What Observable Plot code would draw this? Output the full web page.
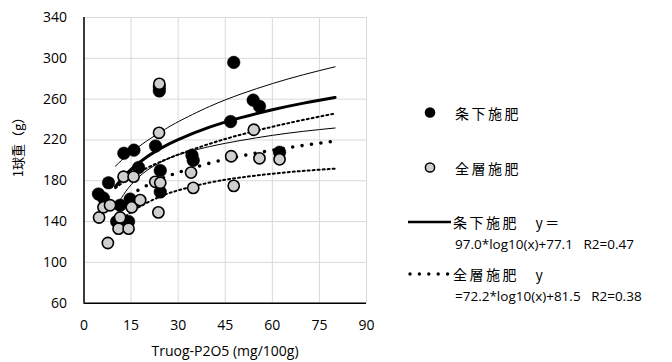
<!DOCTYPE html>
<html><head><meta charset="utf-8">
<script src="https://cdn.jsdelivr.net/npm/d3@7"></script>
<script src="https://cdn.jsdelivr.net/npm/@observablehq/plot@0.6"></script>
<style>
body{margin:0;background:#fff;}
#wrap{position:relative;width:672px;height:362px;font-family:"Open Sans","Noto Sans CJK JP",sans-serif;color:#000;}
.t{position:absolute;white-space:pre;line-height:20px;height:20px;}
.jp{font-family:"Noto Sans CJK JP",sans-serif;letter-spacing:2.5px;font-size:14px;}
.eq{font-size:13.5px;}
</style></head><body><div id="wrap"></div>
<script>
// 条下施肥 (black points)
const jouX = [4.6, 7.8, 6.2, 11.5, 14.7, 10.4, 14.2, 17.4, 12.7, 15.9, 22.8, 24.0, 24.0, 24.3, 24.3, 34.4, 34.8, 47.7, 46.7, 53.9, 55.9, 62.3];
const jouY = [167, 178, 163, 156, 162, 140, 140, 193, 207, 210, 214, 268, 272, 190, 169, 205, 200, 296, 238, 259, 253, 208];
// 全層施肥 (gray points)
const zenX = [4.8, 7.6, 6.2, 8.3, 11.5, 11.0, 14.2, 15.2, 17.9, 12.6, 15.8, 22.7, 24.3, 23.7, 23.9, 24.0, 34.1, 34.8, 46.9, 47.7, 54.1, 55.9, 62.3];
const zenY = [144, 119, 154, 156, 144, 133, 133, 154, 161, 184, 184, 179, 178, 149, 227, 275, 188, 173, 204, 175, 230, 202, 201];
// fitted curves
const fitX     = [10, 12, 15, 20, 25, 30, 40, 50, 60, 70, 80];
const jouFit   = [174.1, 181.8, 191.2, 203.3, 212.7, 220.4, 232.5, 241.9, 249.6, 256.1, 261.7];
const jouUpper = [194.3, 200.1, 207.7, 219.0, 228.9, 237.8, 252.8, 265.0, 275.2, 284.0, 291.7];
const jouLower = [154.0, 163.5, 176.0, 190.0, 199.0, 205.5, 213.5, 219.5, 224.5, 228.5, 231.7];
const zenFit   = [153.7, 159.4, 166.4, 175.4, 182.4, 188.1, 197.2, 204.2, 209.9, 214.7, 218.9];
const zenUpper = [172.7, 177.4, 183.4, 192.4, 199.4, 205.6, 216.2, 225.2, 232.9, 239.7, 245.9];
const zenLower = [134.7, 141.4, 149.4, 158.4, 165.4, 170.6, 178.2, 183.2, 186.9, 189.7, 191.9];
const xTicks = [0, 15, 30, 45, 60, 75, 90];
const yTicks = [60, 100, 140, 180, 220, 260, 300, 340];
const seriesNames = ["条下施肥", "全層施肥"];
const eqHead = ["条下施肥　y＝", "全層施肥　y"];
const eqBody = ["97.0*log10(x)+77.1   R2=0.47", "=72.2*log10(x)+81.5   R2=0.38"];
const xLabel = "Truog-P2O5 (mg/100g)";
const yLabel = "1球重（g）";

const pts = (xs, ys) => xs.map((x, i) => ({x, y: ys[i]}));
const curve = ys => fitX.map((x, i) => ({x, y: ys[i]}));

const chart = Plot.plot({
  width: 672, height: 362,
  marginLeft: 83.5, marginRight: 306, marginTop: 17, marginBottom: 59.3,
  x: {domain: [0, 90]},
  y: {domain: [60, 340]},
  style: {fontFamily: '"Open Sans", sans-serif', fontSize: "14px", color: "#000", background: "transparent"},
  marks: [
    Plot.gridX(xTicks, {stroke: "#d9d9d9", strokeOpacity: 1, strokeWidth: 1}),
    Plot.gridY(yTicks, {stroke: "#d9d9d9", strokeOpacity: 1, strokeWidth: 1}),
    Plot.axisX(xTicks, {tickSize: 0, tickPadding: 17, label: null, fontSize: 14}),
    Plot.axisY(yTicks, {tickSize: 0, tickPadding: 17, label: null, fontSize: 14}),
    Plot.ruleX([0], {stroke: "#000", strokeWidth: 1.5}),
    Plot.ruleY([60], {stroke: "#000", strokeWidth: 1.5}),
    Plot.line(curve(jouUpper), {x: "x", y: "y", curve: "natural", stroke: "#000", strokeWidth: 1}),
    Plot.line(curve(jouLower), {x: "x", y: "y", curve: "natural", stroke: "#000", strokeWidth: 1}),
    Plot.line(curve(zenUpper), {x: "x", y: "y", curve: "natural", stroke: "#000", strokeWidth: 2, strokeDasharray: "2 3"}),
    Plot.line(curve(zenLower), {x: "x", y: "y", curve: "natural", stroke: "#000", strokeWidth: 2, strokeDasharray: "2 3"}),
    Plot.line(curve(jouFit), {x: "x", y: "y", curve: "natural", stroke: "#000", strokeWidth: 3}),
    Plot.line(curve(zenFit), {x: "x", y: "y", curve: "natural", stroke: "#000", strokeWidth: 3.6, strokeDasharray: "0 9.5", strokeLinecap: "round"}),
    Plot.dot(pts(jouX, jouY), {x: "x", y: "y", r: 6.3, fill: "#000", stroke: "#000", strokeWidth: 0.5}),
    Plot.dot(pts(zenX, zenY), {x: "x", y: "y", r: 5.6, fill: "#cfcfcf", stroke: "#000", strokeWidth: 1.6})
  ]
});
const wrap = document.getElementById("wrap");
chart.style.position = "absolute"; chart.style.left = "0"; chart.style.top = "0";
wrap.appendChild(chart);

function addText(txt, left, cy, cls, extra) {
  const d = document.createElement("div");
  d.className = "t " + cls;
  d.textContent = txt;
  d.style.left = left + "px";
  d.style.top = (cy - 10) + "px";
  if (extra) Object.assign(d.style, extra);
  wrap.appendChild(d);
  return d;
}
// axis titles
addText(xLabel, -111, 351, "", {width: "672px", textAlign: "center", fontSize: "14px"});
const yl = document.createElement("div");
yl.className = "t jp";
yl.textContent = yLabel;
Object.assign(yl.style, {left: "18px", top: "144px", fontSize: "13px", letterSpacing: "0px", transform: "translate(-50%,-50%) rotate(-90deg)", height: "auto"});
wrap.appendChild(yl);

// legend symbols
const ns = "http://www.w3.org/2000/svg";
const lg = document.createElementNS(ns, "svg");
lg.setAttribute("width", 672); lg.setAttribute("height", 362);
Object.assign(lg.style, {position: "absolute", left: "0", top: "0"});
lg.innerHTML =
  '<circle cx="430" cy="112.5" r="5.3" fill="#000"/>' +
  '<circle cx="430" cy="167.5" r="4.6" fill="#cfcfcf" stroke="#000" stroke-width="1.5"/>' +
  '<line x1="408" x2="451" y1="222" y2="222" stroke="#000" stroke-width="2.6"/>' +
  '<line x1="410" x2="452" y1="274" y2="274" stroke="#000" stroke-width="3.4" stroke-dasharray="0 9.4" stroke-linecap="round"/>';
wrap.appendChild(lg);

addText(seriesNames[0], 455, 112.5, "jp");
addText(seriesNames[1], 455, 167.5, "jp");
addText(eqHead[0], 453, 222, "jp");
addText(eqBody[0], 455, 244, "eq");
addText(eqHead[1], 453, 274, "jp");
addText(eqBody[1], 455, 296, "eq");
</script></body></html>
